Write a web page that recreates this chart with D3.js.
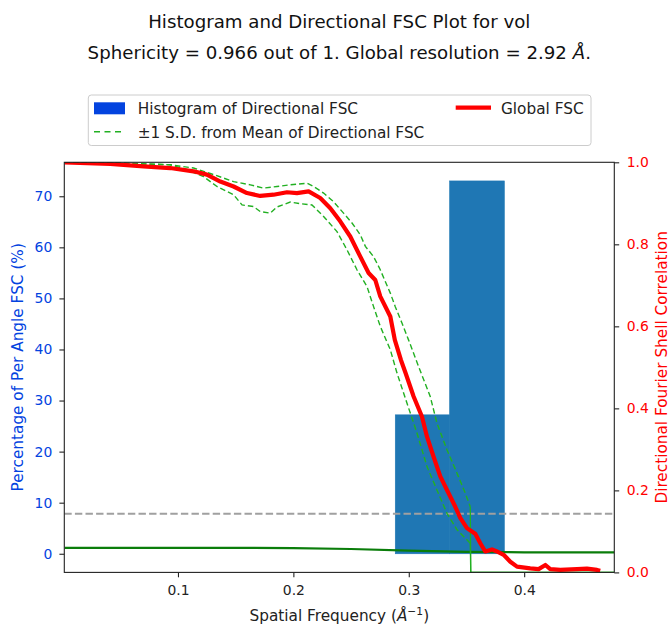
<!DOCTYPE html>
<html>
<head>
<meta charset="utf-8">
<script src="https://cdn.jsdelivr.net/npm/d3@7"></script>
<style>
  html, body { margin: 0; padding: 0; background: #fff; }
  svg { display: block; font-family: "DejaVu Sans", sans-serif; }
</style>
</head>
<body>
<svg id="chart" width="670" height="626"></svg>
<script>
// ---------------- data ----------------
const titleLine1 = "Histogram and Directional FSC Plot for vol";
const titleLine2 = "Sphericity = 0.966 out of 1. Global resolution = 2.92 ";

// Global FSC (red)
const fscFreq = [0.0017, 0.0413, 0.0702, 0.0933, 0.1135, 0.1251, 0.1367, 0.1482, 0.1598, 0.1713,
  0.1828, 0.1945, 0.2031, 0.2132, 0.2233, 0.2320, 0.2406, 0.2493, 0.2580, 0.2652,
  0.2710, 0.2753, 0.2840, 0.2879, 0.2932, 0.2970, 0.3042, 0.3114, 0.3158, 0.3215,
  0.3273, 0.3331, 0.3403, 0.3446, 0.3504, 0.3576, 0.3620, 0.3663, 0.3721, 0.3764,
  0.3822, 0.3880, 0.3938, 0.4053, 0.4125, 0.4184, 0.4226, 0.4313, 0.4458, 0.4544,
  0.4631, 0.4659];
const fscValues = [1.000, 0.996, 0.990, 0.986, 0.978, 0.970, 0.953, 0.941, 0.925, 0.918,
  0.921, 0.927, 0.925, 0.929, 0.913, 0.888, 0.856, 0.819, 0.770, 0.730,
  0.713, 0.673, 0.624, 0.567, 0.518, 0.488, 0.429, 0.380, 0.331, 0.282,
  0.234, 0.201, 0.160, 0.133, 0.108, 0.094, 0.071, 0.051, 0.056, 0.051,
  0.043, 0.026, 0.014, 0.010, 0.008, 0.018, 0.008, 0.006, 0.008, 0.009,
  0.006, 0.004];

// +1 S.D. (upper green dashed)
const upperFreq = [0.0017, 0.0413, 0.0933, 0.1135, 0.1309, 0.1482, 0.1627, 0.1742, 0.1858, 0.1973,
  0.2118, 0.2175, 0.2262, 0.2348, 0.2435, 0.2508, 0.2580, 0.2624, 0.2695, 0.2753,
  0.2840, 0.2883, 0.2941, 0.2998, 0.3085, 0.3186, 0.3244, 0.3331, 0.3418, 0.3490,
  0.3533, 0.3537, 0.4781];
const upperValues = [1.000, 0.9995, 0.994, 0.986, 0.970, 0.953, 0.945, 0.937, 0.941, 0.945,
  0.949, 0.941, 0.925, 0.904, 0.876, 0.852, 0.823, 0.795, 0.770, 0.738,
  0.681, 0.648, 0.608, 0.567, 0.502, 0.429, 0.364, 0.299, 0.242, 0.193,
  0.160, 0.0, 0.0];

// -1 S.D. (lower green dashed)
const lowerFreq = [0.0017, 0.0413, 0.0933, 0.1078, 0.1222, 0.1338, 0.1425, 0.1482, 0.1555, 0.1655,
  0.1713, 0.1800, 0.1858, 0.1973, 0.2060, 0.2161, 0.2262, 0.2378, 0.2464, 0.2551,
  0.2638, 0.2695, 0.2753, 0.2840, 0.2898, 0.2984, 0.3071, 0.3158, 0.3244, 0.3331,
  0.3418, 0.3533, 0.3537, 0.4781];
const lowerValues = [1.000, 0.998, 0.994, 0.982, 0.965, 0.941, 0.929, 0.921, 0.896, 0.892,
  0.880, 0.876, 0.891, 0.903, 0.899, 0.896, 0.868, 0.831, 0.787, 0.738,
  0.697, 0.648, 0.600, 0.543, 0.486, 0.413, 0.340, 0.258, 0.201, 0.144,
  0.104, 0.071, 0.0, 0.0];

// dark green solid line
const greenFreq = [0.0017, 0.15, 0.20, 0.25, 0.30, 0.35, 0.40, 0.4781];
const greenValues = [0.060, 0.060, 0.059, 0.057, 0.053, 0.050, 0.049, 0.049];

// histogram of directional FSC (percent)
const histEdges = [0.2883, 0.3354, 0.3828];
const histPercent = [27.2, 73.0];

const threshold = 0.143;

const xTicks = [0.1, 0.2, 0.3, 0.4];
const leftTicks = [0, 10, 20, 30, 40, 50, 60, 70];
const rightTicks = [0.0, 0.2, 0.4, 0.6, 0.8, 1.0];

const xDomain = [0.0015, 0.4781];
const leftDomain = [-3.65, 76.65];
const rightDomain = [0, 1];

// ---------------- layout ----------------
const plot = { left: 64.3, top: 162.3, right: 614.3, bottom: 572.4 };
const svg = d3.select("#chart");
const FS = 13.9;   // tick labels
const FL = 15.3;   // axis labels & legend
const FT = 18.2;   // title
const blue = "#0343df";
const red = "#ff0000";
const sdGreen = "#22b022";

const x = d3.scaleLinear().domain(xDomain).range([plot.left, plot.right]);
const yL = d3.scaleLinear().domain(leftDomain).range([plot.bottom, plot.top]);
const yR = d3.scaleLinear().domain(rightDomain).range([plot.bottom, plot.top]);

svg.append("defs").append("clipPath").attr("id", "clip")
  .append("rect").attr("x", plot.left).attr("y", plot.top)
  .attr("width", plot.right - plot.left).attr("height", plot.bottom - plot.top);

const g = svg.append("g").attr("clip-path", "url(#clip)");

// histogram bars
const bars = histPercent.map((p, i) => ({ x0: histEdges[i], x1: histEdges[i + 1], p }));
g.selectAll("rect.bar").data(bars).enter().append("rect")
  .attr("class", "bar")
  .attr("x", d => x(d.x0))
  .attr("width", d => x(d.x1) - x(d.x0))
  .attr("y", d => yL(d.p))
  .attr("height", d => yL(0) - yL(d.p))
  .attr("fill", "#1f77b4").attr("stroke", "#1f77b4").attr("stroke-width", 0.6);

// threshold line
g.append("line")
  .attr("x1", plot.left).attr("x2", plot.right)
  .attr("y1", yR(threshold)).attr("y2", yR(threshold))
  .attr("stroke", "#a0a0a0").attr("stroke-width", 2)
  .attr("stroke-dasharray", "7.4,3.2");

// dark green line
const lineR = d3.line().x(d => x(d[0])).y(d => yR(d[1]));
g.append("path")
  .attr("d", lineR(d3.zip(greenFreq, greenValues)))
  .attr("fill", "none").attr("stroke", "#0a7d0a").attr("stroke-width", 2.2);

// SD lines
function sdPaths(fr, vals) {
  const pts = d3.zip(fr, vals);
  const k = vals.findIndex(v => v === 0);
  const dashed = pts.slice(0, k);
  const tail = pts.slice(k - 1);
  g.append("path").attr("d", lineR(dashed))
    .attr("fill", "none").attr("stroke", sdGreen).attr("stroke-width", 1.4)
    .attr("stroke-dasharray", "5.5,3");
  g.append("path").attr("d", lineR(tail))
    .attr("fill", "none").attr("stroke", sdGreen).attr("stroke-width", 1.3);
}
sdPaths(upperFreq, upperValues);
sdPaths(lowerFreq, lowerValues);

// global FSC red line
g.append("path")
  .attr("d", lineR(d3.zip(fscFreq, fscValues)))
  .attr("fill", "none").attr("stroke", red).attr("stroke-width", 4.2)
  .attr("stroke-linejoin", "round").attr("stroke-linecap", "butt");

// ---------------- axes ----------------
function styleAxis(sel, color) {
  sel.select(".domain").remove();
  sel.selectAll(".tick line").attr("stroke", "#222").attr("stroke-width", 1.1);
  sel.selectAll(".tick text").attr("fill", color).style("font-size", FS + "px")
    .style("font-family", "DejaVu Sans");
}
const xAxis = svg.append("g").attr("transform", `translate(0,${plot.bottom})`)
  .call(d3.axisBottom(x).tickValues(xTicks).tickFormat(d3.format(".1f")).tickSizeOuter(0).tickSize(4.9).tickPadding(7.4));
styleAxis(xAxis, "#222");

const lAxis = svg.append("g").attr("transform", `translate(${plot.left},0)`)
  .call(d3.axisLeft(yL).tickValues(leftTicks).tickFormat(d3.format("d")).tickSizeOuter(0).tickSize(4.9).tickPadding(7.1));
styleAxis(lAxis, blue);

const rAxis = svg.append("g").attr("transform", `translate(${plot.right},0)`)
  .call(d3.axisRight(yR).tickValues(rightTicks).tickFormat(d3.format(".1f")).tickSizeOuter(0).tickSize(4.9).tickPadding(7.5));
styleAxis(rAxis, red);

// frame
svg.append("rect")
  .attr("x", plot.left).attr("y", plot.top)
  .attr("width", plot.right - plot.left).attr("height", plot.bottom - plot.top)
  .attr("fill", "none").attr("stroke", "#222").attr("stroke-width", 1.1);

// axis labels
const xl = svg.append("text").attr("x", (plot.left + plot.right) / 2).attr("y", 621)
  .attr("text-anchor", "middle").style("font-size", FL + "px").attr("fill", "#222");
xl.append("tspan").text("Spatial Frequency (");
xl.append("tspan").text("Å").style("font-style", "italic");
xl.append("tspan").text("−1").attr("dy", -6.5).style("font-size", (FL * 0.7) + "px");
xl.append("tspan").text(")").attr("dy", 6.5);

svg.append("text")
  .attr("transform", `translate(23,${(plot.top + plot.bottom) / 2}) rotate(-90)`)
  .attr("text-anchor", "middle").style("font-size", FL + "px").attr("fill", blue)
  .text("Percentage of Per Angle FSC (%)");

svg.append("text")
  .attr("transform", `translate(667,${(plot.top + plot.bottom) / 2}) rotate(-90)`)
  .attr("text-anchor", "middle").style("font-size", FL + "px").attr("fill", red)
  .text("Directional Fourier Shell Correlation");

// title
const cx = (plot.left + plot.right) / 2;
svg.append("text").attr("x", cx).attr("y", 27.7).attr("text-anchor", "middle")
  .style("font-size", FT + "px").attr("fill", "#111").text(titleLine1);
const t2 = svg.append("text").attr("x", cx).attr("y", 58.8).attr("text-anchor", "middle")
  .style("font-size", FT + "px").attr("fill", "#111");
t2.append("tspan").text(titleLine2);
t2.append("tspan").text("Å").style("font-style", "italic");
t2.append("tspan").text(".");

// legend
const lg = svg.append("g");
lg.append("rect").attr("x", 88.3).attr("y", 95).attr("width", 502.7).attr("height", 50.5)
  .attr("rx", 3).attr("fill", "#fff").attr("stroke", "#cccccc").attr("stroke-width", 1);
lg.append("rect").attr("x", 94).attr("y", 102.3).attr("width", 31).attr("height", 12)
  .attr("fill", blue);
lg.append("text").attr("x", 137.7).attr("y", 113.8).style("font-size", FL + "px").attr("fill", "#222")
  .text("Histogram of Directional FSC");
lg.append("line").attr("x1", 94).attr("x2", 125).attr("y1", 131.7).attr("y2", 131.7)
  .attr("stroke", sdGreen).attr("stroke-width", 1.5).attr("stroke-dasharray", "6,4.5");
lg.append("text").attr("x", 137.7).attr("y", 137.8).style("font-size", FL + "px").attr("fill", "#222")
  .text("±1 S.D. from Mean of Directional FSC");
lg.append("line").attr("x1", 455.7).attr("x2", 491).attr("y1", 107.7).attr("y2", 107.7)
  .attr("stroke", red).attr("stroke-width", 4.2);
lg.append("text").attr("x", 501).attr("y", 113.8).style("font-size", FL + "px").attr("fill", "#222")
  .text("Global FSC");
</script>
</body>
</html>
